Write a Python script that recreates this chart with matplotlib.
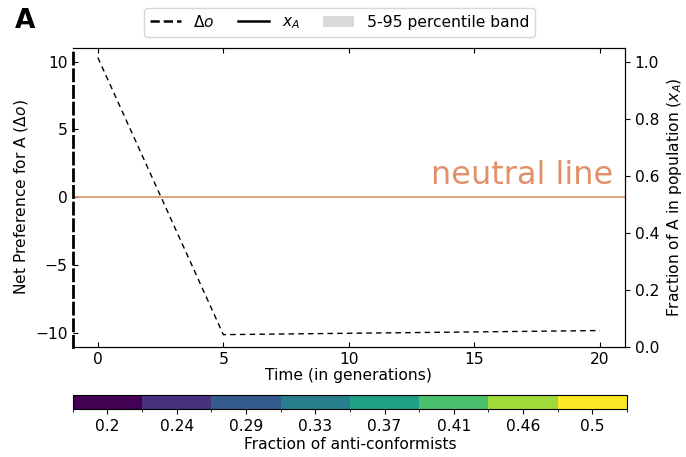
import numpy as np
import matplotlib
matplotlib.use("Agg")
import matplotlib.pyplot as plt
from matplotlib.colors import ListedColormap, BoundaryNorm
from matplotlib.cm import ScalarMappable
from matplotlib.lines import Line2D
from matplotlib.patches import Patch

# Net preference trajectory (generations vs. delta o)
generations = [0, 5, 10, 15, 20]
delta_o = [10.3, -10.1, -10.0, -9.9, -9.8]

# Fraction of anti-conformists shown in the colour bar
anti_fractions = [0.2, 0.24, 0.29, 0.33, 0.37, 0.41, 0.46, 0.5]

neutral_color = "#E0916A"
fs = 11.2

fig = plt.figure(figsize=(6.86, 4.57), dpi=100)
ax = fig.add_axes([0.106, 0.241, 0.805, 0.654])

ax.plot(generations, delta_o, color="black", ls="--", lw=1.0, dashes=(4, 3))
ax.axhline(0, color=neutral_color, lw=1.2)
ax.text(20.55, 0.45, "neutral line", color=neutral_color, fontsize=23,
        ha="right", va="bottom")

ax.set_xlim(-1, 21)
ax.set_ylim(-11, 11)
ax.set_xticks([0, 5, 10, 15, 20])
ax.set_yticks([-10, -5, 0, 5, 10])
ax.tick_params(direction="in", top=True, labelsize=fs)
ax.set_xlabel("Time (in generations)", fontsize=fs, labelpad=1)
ax.set_ylabel(r"Net Preference for A ($\Delta o$)", fontsize=fs)
ax.spines["left"].set_linestyle((0, (4, 2)))
ax.spines["left"].set_linewidth(2.0)

ax2 = ax.twinx()
ax2.set_ylim(0, 1.05)
ax2.set_yticks([0.0, 0.2, 0.4, 0.6, 0.8, 1.0])
ax2.tick_params(labelsize=fs)
ax2.spines["left"].set_visible(False)
ax2.set_ylabel(r"Fraction of A in population ($x_A$)", fontsize=fs)

handles = [
    Line2D([], [], color="black", ls="--", lw=1.8),
    Line2D([], [], color="black", ls="-", lw=1.8),
    Patch(facecolor="#d9d9d9", edgecolor="none"),
]
labels = [r"$\Delta o$", r"$x_A$", "5-95 percentile band"]
fig.legend(handles, labels, ncol=3, loc="center", fontsize=fs,
           bbox_to_anchor=(0.495, 0.951), frameon=True, handlelength=2,
           columnspacing=1.5, borderpad=0.35)

fig.text(0.022, 0.953, "A", fontsize=19, fontweight="bold", ha="left", va="center")

# Discrete colour bar for anti-conformist fractions
n = len(anti_fractions)
cmap = ListedColormap(plt.get_cmap("viridis")(np.linspace(0, 1, n)))
norm = BoundaryNorm(np.arange(n + 1) - 0.5, n)
cax = fig.add_axes([0.106, 0.105, 0.808, 0.031])
sm = ScalarMappable(norm=norm, cmap=cmap)
cb = fig.colorbar(sm, cax=cax, orientation="horizontal", ticks=np.arange(n))
cb.ax.set_xticklabels([f"{v:g}" for v in anti_fractions])
cb.ax.tick_params(labelsize=fs)
cb.set_label("Fraction of anti-conformists", fontsize=fs, labelpad=2)

fig.savefig("out.png", dpi=100)
